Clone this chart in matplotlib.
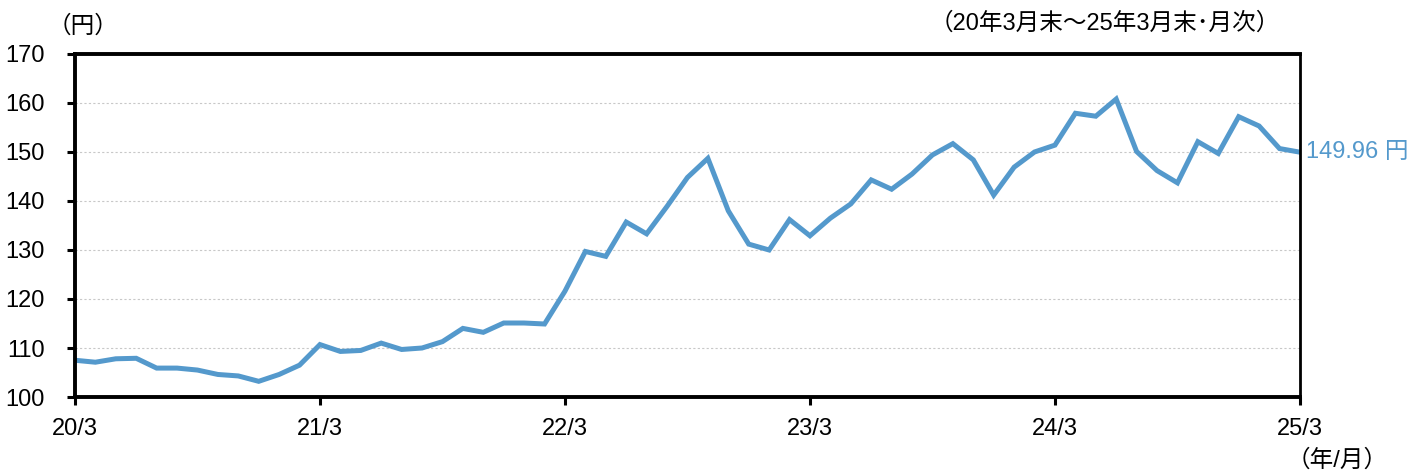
import matplotlib
matplotlib.use("Agg")
import matplotlib.pyplot as plt
import numpy as np

plt.rcParams["font.family"] = ["Liberation Sans", "Noto Sans CJK JP", "DejaVu Sans"]

# month-end USD/JPY, 2020/3 .. 2025/3
usd_jpy = [
    107.5, 107.1, 107.8, 107.9, 105.9, 105.9, 105.5, 104.6, 104.3, 103.2, 104.6, 106.5,
    110.7, 109.3, 109.5, 111.0, 109.7, 110.0, 111.3, 114.0, 113.2, 115.1, 115.1, 114.9,
    121.6, 129.7, 128.7, 135.7, 133.3, 138.9, 144.8, 148.7, 138.0, 131.2, 130.0, 136.2,
    132.9, 136.5, 139.4, 144.3, 142.4, 145.5, 149.4, 151.7, 148.4, 141.2, 146.9, 150.0,
    151.4, 157.9, 157.3, 160.8, 150.1, 146.2, 143.7, 152.1, 149.7, 157.2, 155.3, 150.7,
    149.96,
]
tick_labels = ["20/3", "21/3", "22/3", "23/3", "24/3", "25/3"]
y_ticks = [100, 110, 120, 130, 140, 150, 160, 170]
last_label = "149.96 円"

blue = "#5499cc"
fs = 17
months = np.arange(len(usd_jpy))

fig = plt.figure(figsize=(14.09, 4.71), dpi=100)
ax = fig.add_axes([0.0532, 0.1571, 0.8694, 0.7283])

ax.plot(months, usd_jpy, color=blue, lw=3.6, solid_joinstyle="miter")

ax.set_xlim(0, 60)
ax.set_ylim(100, 170)
ax.set_xticks(np.arange(0, 61, 12))
ax.set_xticklabels(tick_labels)
ax.set_yticks(y_ticks)
ax.tick_params(axis="both", labelsize=fs, direction="out", width=2.2, length=6, color="black")
ax.tick_params(axis="x", pad=9)
ax.tick_params(axis="y", pad=16)

for gy in y_ticks[1:-1]:
    ax.axhline(gy, color="#c8c8c8", lw=0.8, ls=(0, (2, 2)), zorder=0)

for side in ("left", "bottom", "top"):
    ax.spines[side].set_linewidth(2.8)
ax.spines["right"].set_linewidth(2.0)

ax.annotate(last_label, xy=(60, usd_jpy[-1]), xytext=(6, 0), textcoords="offset pixels",
            color=blue, fontsize=fs, va="center", ha="left", annotation_clip=False)

fig.text(0.034, 0.943, "（円）", fontsize=fs, ha="left", va="center")
fig.text(0.9085, 0.951, "（20年3月末～25年3月末･月次）", fontsize=fs, ha="right", va="center")
fig.text(0.913, 0.023, "（年/月）", fontsize=fs, ha="left", va="center")

fig.savefig("out.png", dpi=100)
